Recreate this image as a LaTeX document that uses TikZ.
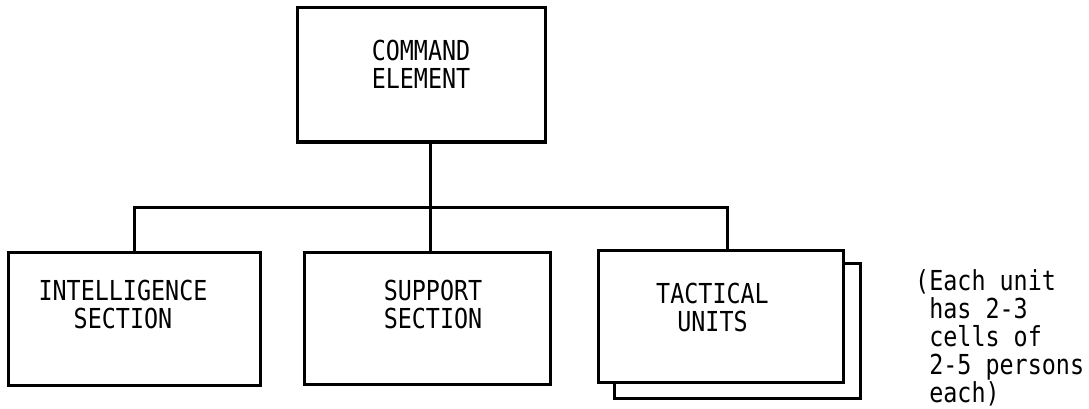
\documentclass[tikz,border=0pt]{standalone}
\usepackage{fontspec}
\setmonofont[FakeStretch=0.85]{DejaVu Sans Mono}
\begin{document}
\begin{tikzpicture}[x=1pt,y=-1pt,
        box/.style={draw, line width=3pt, fill=white, inner sep=0pt},
        boxtext/.style={align=center, inner sep=0pt, font=\ttfamily\fontsize{27.5}{28}\selectfont},
        link/.style={line width=3pt}]
        \useasboundingbox (0,0) rectangle (1089,409);

        %the boxes
        \node[box, minimum width=248pt, minimum height=134pt] (cmd) at (421,75) {};
        \node[box, minimum width=252pt, minimum height=133pt] (intel) at (134,318.5) {};
        \node[box, minimum width=246pt, minimum height=132pt] (supp) at (427,318) {};
        \node[box, minimum width=246pt, minimum height=135pt] (tactback) at (737,330.5) {};
        \node[box, minimum width=245pt, minimum height=132pt] (tact) at (720.5,316) {};

        %texts in the boxes
        \node[boxtext] (cmdtxt) at ([yshift=11pt]cmd.center) {COMMAND\\ELEMENT};
        \node[boxtext] (inteltxt) at ([xshift=-11pt,yshift=14pt]intel.center) {INTELLIGENCE\\SECTION};
        \node[boxtext] (supptxt) at ([xshift=6pt,yshift=14pt]supp.center) {SUPPORT\\SECTION};
        \node[boxtext] (tacttxt) at ([xshift=-8pt,yshift=9pt]tact.center) {TACTICAL\\UNITS};

        %the connectors
        \coordinate (trunk) at (430,207);
        \draw[link] (cmd.south -| trunk) -- (trunk);
        \draw[link] (intel.north) |- (trunk) -| ([xshift=7pt]tact.north);
        \draw[link] (trunk) -- (supp.north -| trunk);

        \node[boxtext, align=left, anchor=north west] (note) at (915,269)
            {(Each unit\\\hphantom{(}has 2-3\\\hphantom{(}cells of\\\hphantom{(}2-5 persons\\\hphantom{(}each)};
    \end{tikzpicture}
\end{document}
